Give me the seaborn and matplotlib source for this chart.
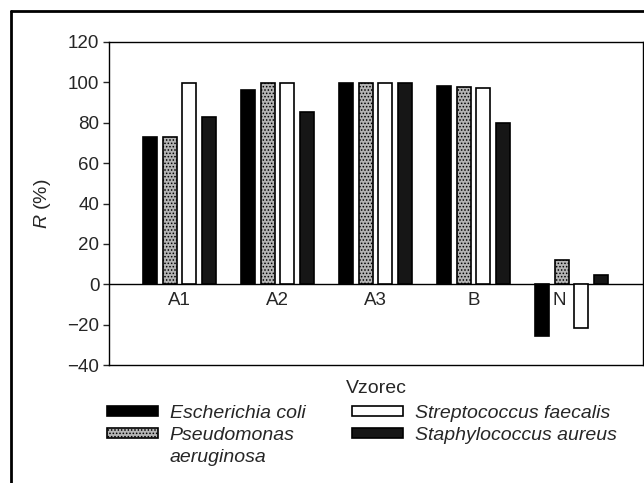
import pandas as pd
import matplotlib
matplotlib.use('Agg')
import matplotlib.pyplot as plt
from matplotlib.lines import Line2D
import seaborn as sns

# values
samples = ['A1', 'A2', 'A3', 'B', 'N']
organisms = ['Escherichia coli', 'Pseudomonas aeruginosa',
             'Streptococcus faecalis', 'Staphylococcus aureus']
e_coli = [72.7, 96.4, 99.5, 98.4, -25.7]
p_aeruginosa = [72.7, 99.5, 99.5, 97.9, 11.9]
s_faecalis = [99.5, 99.5, 99.5, 97.4, -21.8]
s_aureus = [82.8, 85.3, 99.5, 80.0, 4.4]
y_ticks = [-40, -20, 0, 20, 40, 60, 80, 100, 120]

rows = []
for org, vals in zip(organisms, [e_coli, p_aeruginosa, s_faecalis, s_aureus]):
    for s, v in zip(samples, vals):
        rows.append({'sample': s, 'organism': org, 'R': v})
df = pd.DataFrame(rows)

sns.set_style('white')
plt.rcParams['font.family'] = ['Liberation Sans', 'DejaVu Sans']
plt.rcParams['mathtext.fontset'] = 'custom'
plt.rcParams['mathtext.it'] = 'Liberation Sans:italic'
plt.rcParams['mathtext.rm'] = 'Liberation Sans'
plt.rcParams['hatch.linewidth'] = 0.7

fig = plt.figure(figsize=(6.44, 4.83), dpi=100)
ax = fig.add_axes([109 / 644, 118 / 483, 534 / 644, 323 / 483])

palette = {organisms[0]: 'black', organisms[1]: '#b4b4b4',
           organisms[2]: 'white', organisms[3]: '#161616'}
sns.barplot(data=df, x='sample', y='R', hue='organism', hue_order=organisms,
            order=samples, palette=palette, width=0.8, gap=0.3,
            edgecolor='black', linewidth=1.2, errorbar=None, legend=False, ax=ax)

# stipple for Pseudomonas
for bar in ax.containers[1]:
    bar.set_hatch('.....')

ax.axhline(0, color='black', linewidth=1, zorder=0.5)
ax.set_xlim(-0.72, 4.73)
ax.set_ylim(-40, 120)
ax.set_yticks(y_ticks)
ax.set_xticks([])
ax.tick_params(axis='y', direction='out', length=4, width=1, pad=3,
               labelsize=13.5, left=True)
for sp in ax.spines.values():
    sp.set_color('black')
    sp.set_linewidth(1)

for i, s in enumerate(samples):
    off = -0.12 if s == 'N' else 0
    ax.text(i + off, -8, s, ha='center', va='center', fontsize=13.5)

ax.set_ylabel(r'$\mathit{R}$ (%)', fontsize=14, labelpad=10)
ax.set_xlabel('Vzorec', fontsize=14, labelpad=11)

# legend: species name wraps onto a second line in the original
handles = [c[0] for c in ax.containers]
leg_labels = ['Escherichia coli', 'Pseudomonas',
              'Streptococcus faecalis', 'Staphylococcus aureus']
fig.legend(handles, leg_labels, ncol=2, loc='upper left',
           bbox_to_anchor=(107 / 644, 1 - 405 / 483), frameon=False,
           prop={'style': 'italic', 'size': 14}, borderpad=0, borderaxespad=0,
           handlelength=2.6, handleheight=0.45, handletextpad=0.62,
           columnspacing=2.4, labelspacing=0.25)
fig.text(170 / 644, 1 - 458 / 483, 'aeruginosa', style='italic',
         fontsize=14, va='center', ha='left')

# outer frame of the scanned panel
fig.add_artist(Line2D([11 / 644, 11 / 644], [0, 1 - 11 / 483],
                      color='black', linewidth=2, transform=fig.transFigure))
fig.add_artist(Line2D([11 / 644, 1], [1 - 11 / 483, 1 - 11 / 483],
                      color='black', linewidth=2, transform=fig.transFigure))

fig.savefig('out.png', dpi=100)
plt.close('all')
